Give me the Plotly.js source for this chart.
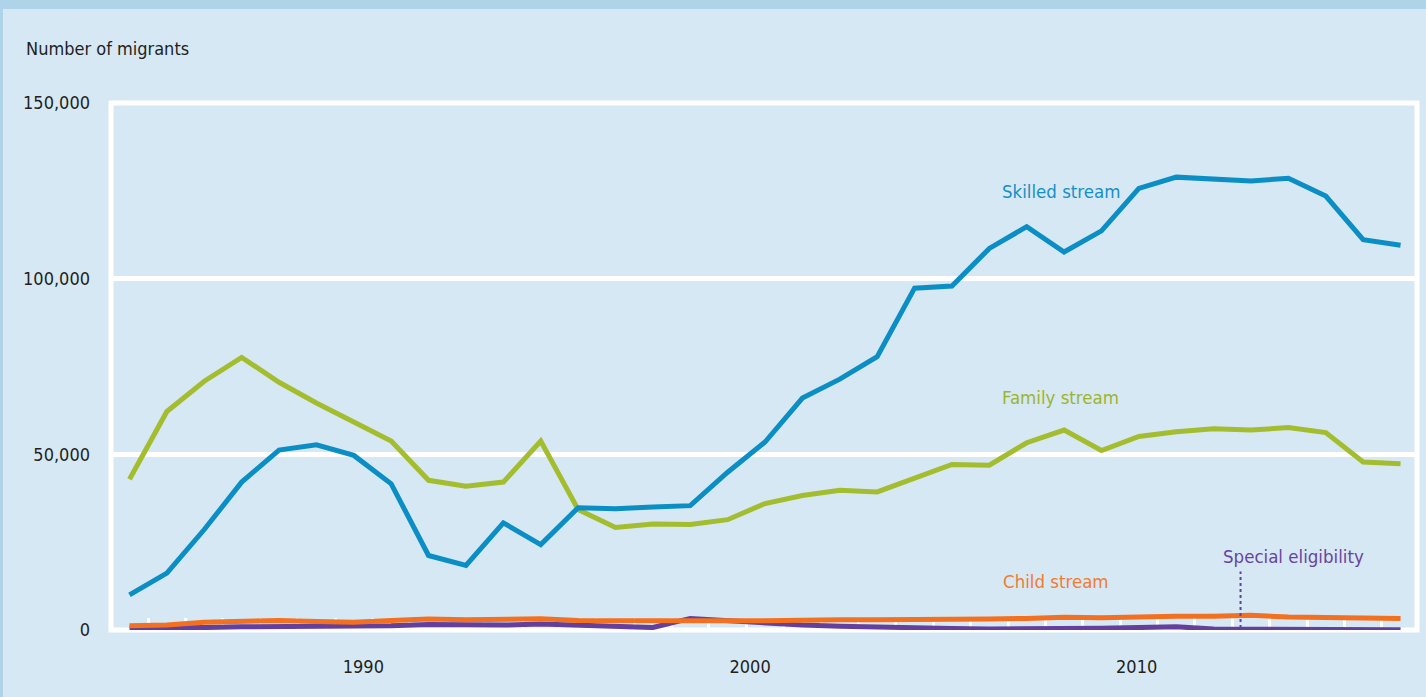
<!DOCTYPE html>
<html>
<head>
<meta charset="utf-8">
<script src="https://cdn.plot.ly/plotly-3.0.1.min.js"></script>
<style>
  html, body { margin: 0; padding: 0; background: #afd3e8; width: 1426px; height: 697px; overflow: hidden; }
  #chart { position: absolute; left: 3px; top: 9px; width: 1423px; height: 688px; }
</style>
</head>
<body>
<div id="chart"></div>
<script>
// Financial years (start year), 1984-85 to 2018-19
const years = [1984,1985,1986,1987,1988,1989,1990,1991,1992,1993,1994,1995,1996,1997,1998,1999,2000,2001,2002,2003,2004,2005,2006,2007,2008,2009,2010,2011,2012,2013,2014,2015,2016,2017,2018];

const skilled = [10000,16200,28600,42100,51200,52700,49700,41600,21200,18400,30500,24300,34800,34500,35000,35400,44900,53500,66000,71400,77800,97300,97900,108600,114800,107600,113600,125700,128900,128400,127800,128600,123500,111100,109500];

const family = [42900,62200,70800,77600,70500,64600,59200,53800,42600,40900,42100,53800,34300,29200,30200,30000,31400,36000,38300,39800,39300,43100,47100,46900,53300,56900,51100,55100,56400,57300,56900,57600,56200,47800,47300];

const child = [1200,1400,2200,2400,2700,2400,2200,2700,3100,2900,2900,3200,2700,2600,2600,2700,2600,2600,2900,2900,2900,2900,3100,3100,3300,3600,3500,3800,3900,3900,4200,3700,3500,3400,3300];

const special = [500,500,700,900,1000,1000,900,1200,1600,1400,1400,1700,1400,1000,700,3300,2600,1900,1400,1100,800,500,400,300,300,500,500,700,900,300,300,300,400,300,100];

const yTicks = [0, 50000, 100000, 150000];
const yTickText = ['0', '50,000', '100,000', '150,000'];
const xTickLabels = ['1990', '2000', '2010'];
const xTickPos = [1990.255, 2000.6, 2010.94];

const seriesNames = ['Family stream', 'Skilled stream', 'Special eligibility', 'Child stream'];

const C_BLUE = '#0b8ec4', C_GREEN = '#a3bd2e', C_ORANGE = '#f37021', C_PURPLE = '#64409c';
const FONT = '"DejaVu Sans Condensed", "Liberation Sans", sans-serif';
const AX = 18, ANN = 18.5;

const mk = (y, name, color) => ({
  x: years, y: y, name: name, type: 'scatter', mode: 'lines',
  line: { color: color, width: 5 }, hoverinfo: 'x+y+name'
});

const data = [
  mk(family, seriesNames[0], C_GREEN),
  mk(skilled, seriesNames[1], C_BLUE),
  mk(special, seriesNames[2], C_PURPLE),
  mk(child, seriesNames[3], C_ORANGE)
];

const layout = {
  width: 1423, height: 688,
  paper_bgcolor: '#d6e8f4', plot_bgcolor: '#d6e8f4',
  margin: { l: 107.5, r: 8.5, t: 94, b: 67, pad: 0 },
  showlegend: false,
  font: { family: FONT, color: '#231f20', size: AX },
  title: {
    text: 'Number of migrants',
    xref: 'container', yref: 'container',
    x: 0.0162, xanchor: 'left', y: 0.943, yanchor: 'middle',
    font: { family: FONT, size: AX, color: '#231f20' }
  },
  xaxis: {
    range: [1983.505, 2018.44],
    tickmode: 'array', tickvals: xTickPos, ticktext: xTickLabels,
    ticks: '', showgrid: false, zeroline: false, showline: false,
    ticklabelstandoff: 24,
    tickfont: { family: FONT, size: AX, color: '#231f20' },
    layer: 'below traces',
    minor: { tickmode: 'linear', tick0: 1984.5, dtick: 1, ticks: 'inside', ticklen: 12, tickwidth: 3, tickcolor: '#ffffff', showgrid: false }
  },
  yaxis: {
    range: [0, 150000],
    tickmode: 'array', tickvals: yTicks, ticktext: yTickText,
    ticks: '', showgrid: true, gridcolor: '#ffffff', gridwidth: 5,
    zeroline: false, showline: false,
    ticklabelstandoff: 20,
    tickfont: { family: FONT, size: AX, color: '#231f20' },
    layer: 'below traces'
  },
  shapes: [
    { type: 'rect', xref: 'paper', yref: 'paper', x0: 0, x1: 1, y0: 0, y1: 1,
      line: { color: '#ffffff', width: 5 }, layer: 'below' },
    { type: 'line', xref: 'x', yref: 'y', x0: 2013.72, x1: 2013.72, y0: 600, y1: 16660,
      line: { color: C_PURPLE, width: 2, dash: 'dot' }, layer: 'above' }
  ],
  annotations: [
    { text: 'Skilled stream', xref: 'x', yref: 'y', x: 2007.28, y: 124850, xanchor: 'left', yanchor: 'middle', showarrow: false, font: { family: FONT, size: ANN, color: '#1590c6' } },
    { text: 'Family stream', xref: 'x', yref: 'y', x: 2007.28, y: 66140, xanchor: 'left', yanchor: 'middle', showarrow: false, font: { family: FONT, size: ANN, color: '#9bb52c' } },
    { text: 'Child stream', xref: 'x', yref: 'y', x: 2007.3, y: 13860, xanchor: 'left', yanchor: 'middle', showarrow: false, font: { family: FONT, size: ANN, color: '#f47b2e' } },
    { text: 'Special eligibility', xref: 'x', yref: 'y', x: 2013.19, y: 20860, xanchor: 'left', yanchor: 'middle', showarrow: false, font: { family: FONT, size: ANN, color: '#6844a0' } }
  ]
};

Plotly.newPlot('chart', data, layout, { displayModeBar: false, staticPlot: true });
</script>
</body>
</html>
